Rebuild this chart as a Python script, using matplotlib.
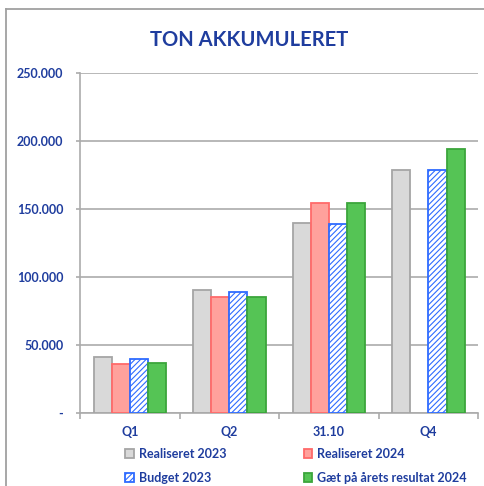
import matplotlib.pyplot as plt
from matplotlib.ticker import FuncFormatter
import numpy as np

plt.rcParams['font.family'] = ['Lato', 'DejaVu Sans']
plt.rcParams['hatch.color'] = '#7FA0F0'
plt.rcParams['hatch.linewidth'] = 0.8

categories = ['Q1', 'Q2', '31.10', 'Q4']
realiseret_2023 = [41000, 90500, 140000, 178300]
realiseret_2024 = [36000, 85300, 154200, np.nan]
budget_2023 = [39500, 89000, 139000, 178500]
gaet_2024 = [36500, 85300, 154500, 194000]

series_names = ['Realiseret 2023', 'Realiseret 2024', 'Budget 2023', 'Gæt på årets resultat 2024']

text_blue = '#1F3D9E'
grid_gray = '#ABABAB'

fig = plt.figure(figsize=(4.85, 4.86), dpi=100)
ax = fig.add_axes([0.165, 0.150, 0.821, 0.700])

x = np.arange(len(categories))
w = 0.182
offsets = np.array([-1.5, -0.5, 0.5, 1.5]) * w

b1 = ax.bar(x + offsets[0], realiseret_2023, w, color='#D9D9D9', edgecolor='#A5A5A5', linewidth=1.3, zorder=3)
b2 = ax.bar(x + offsets[1], realiseret_2024, w, color='#FFA19C', edgecolor='#FF6A6A', linewidth=1.3, zorder=3)
b3 = ax.bar(x + offsets[2], budget_2023, w, color='white', edgecolor='#2E6BFF', hatch='//////', linewidth=1.3, zorder=3)
b4 = ax.bar(x + offsets[3], gaet_2024, w, color='#55C455', edgecolor='#3BA53B', linewidth=1.3, zorder=3)

ax.set_xlim(-0.5, len(categories) - 0.5)
ax.set_ylim(0, 250000)
ax.set_yticks(np.arange(0, 250001, 50000))
ax.yaxis.set_major_formatter(FuncFormatter(lambda v, p: '-' if v == 0 else f'{int(v):,}'.replace(',', '.')))
ax.yaxis.grid(True, color=grid_gray, linewidth=1.2, zorder=0)

ax.set_xticks(x)
ax.set_xticklabels(categories)
ax.set_xticks(np.arange(-0.5, len(categories)), minor=True)
ax.tick_params(axis='x', which='major', length=0, pad=9)
ax.tick_params(axis='x', which='minor', length=4, color=grid_gray, width=1.2)
ax.tick_params(axis='y', length=3, color=grid_gray, width=1.2, pad=9)

for lbl in ax.get_xticklabels() + ax.get_yticklabels():
    lbl.set_color(text_blue)
    lbl.set_fontweight('bold')
    lbl.set_fontsize(9)

for s in ['top', 'right']:
    ax.spines[s].set_visible(False)
ax.spines['left'].set_color(grid_gray)
ax.spines['bottom'].set_color(grid_gray)
ax.spines['left'].set_linewidth(1.2)
ax.spines['bottom'].set_linewidth(1.2)

fig.text(0.513, 0.918, 'TON AKKUMULERET', ha='center', va='center',
         fontsize=14.5, fontweight='bold', color=text_blue)

handles = [b1, b2, b3, b4]
leg = fig.legend([handles[0], handles[2], handles[1], handles[3]],
                 [series_names[0], series_names[2], series_names[1], series_names[3]],
                 loc='center', bbox_to_anchor=(0.61, 0.041), ncol=2, frameon=False,
                 handlelength=0.7, handleheight=0.7, handletextpad=0.35, columnspacing=6.2,
                 labelspacing=0.95, prop={'weight': 'bold', 'size': 9})
for t in leg.get_texts():
    t.set_color(text_blue)

# outer frame
fig.add_artist(plt.Line2D([0.013, 0.013], [0, 0.982], color='#A0A0A0', linewidth=1.3))
fig.add_artist(plt.Line2D([0.013, 1.0], [0.982, 0.982], color='#A0A0A0', linewidth=1.3))

fig.savefig('out.png', dpi=100)
